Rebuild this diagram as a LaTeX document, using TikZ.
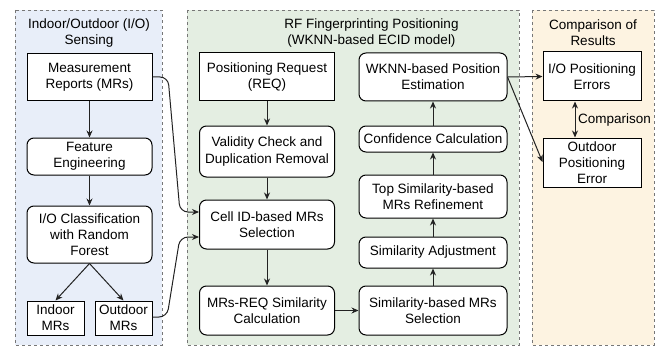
\documentclass[tikz,border=0pt]{standalone}
\usepackage{fontspec}
\setmainfont{Liberation Sans}
\usetikzlibrary{arrows.meta}
\definecolor{panelblue}{HTML}{E8EEF9}
\definecolor{panelgreen}{HTML}{E4EEE2}
\definecolor{panelyellow}{HTML}{FDF3E1}
\definecolor{dashgray}{HTML}{777777}
\definecolor{linedark}{HTML}{222222}
\newcommand{\labelfont}{\fontsize{13.5}{16.2}\selectfont}
\tikzset{
  panel/.style={draw=dashgray, line width=0.9pt, dash pattern=on 3pt off 3pt},
  basebox/.style={draw=black, line width=1pt, fill=white, align=center, inner sep=0pt, font=\labelfont},
  sqbox/.style={basebox},
  rbox/.style={basebox, rounded corners=7pt},
  title/.style={align=center, font=\labelfont, inner sep=0pt},
  flow/.style={draw=linedark, line width=1pt, -{Stealth[length=7pt,width=6pt]}},
}
\begin{document}
\begin{tikzpicture}[x=1pt, y=-1pt]
\useasboundingbox (0,0) rectangle (663,350);

% panels
\draw[panel, fill=panelblue] (15,10) rectangle (162,345);
\draw[panel, fill=panelgreen] (187,10) rectangle (519,345);
\draw[panel, fill=panelyellow] (532,10) rectangle (654,345);

% panel titles
\node[title] (t1) at (89,33) {Indoor/Outdoor (I/O)\\Sensing};
\node[title] (t2) at (371.5,33) {RF Fingerprinting Positioning\\(WKNN-based ECID model)};
\node[title] (t3) at (593,33) {Comparison of\\Results};

% sensing column
\node[sqbox, minimum width=125pt, minimum height=47pt] (mr) at (89.5,77.5) {Measurement\\Reports (MRs)};
\node[rbox, minimum width=125pt, minimum height=37pt] (fe) at (89.5,156.5) {Feature\\Engineering};
\node[rbox, minimum width=125pt, minimum height=57pt] (ioc) at (89.5,234.5) {I/O Classification\\with Random\\Forest};
\node[sqbox, minimum width=57pt, minimum height=34pt] (ind) at (55.5,318) {Indoor\\MRs};
\node[sqbox, minimum width=57pt, minimum height=34pt] (outd) at (123.5,318) {Outdoor\\MRs};

% positioning, left column
\node[sqbox, minimum width=135pt, minimum height=48pt] (pr) at (267,77) {Positioning Request\\(REQ)};
\node[rbox, minimum width=135pt, minimum height=51pt] (vc) at (267,151.5) {Validity Check and\\Duplication Removal};
\node[rbox, minimum width=135pt, minimum height=49pt] (cid) at (267,224.5) {Cell ID-based MRs\\Selection};
\node[rbox, minimum width=135pt, minimum height=49pt] (mrq) at (267,310.5) {MRs-REQ Similarity\\Calculation};

% positioning, right column
\node[rbox, minimum width=148pt, minimum height=49pt] (ss) at (433,310.5) {Similarity-based MRs\\Selection};
\node[rbox, minimum width=148pt, minimum height=31pt] (sa) at (433,252.5) {Similarity Adjustment};
\node[rbox, minimum width=148pt, minimum height=43pt] (ts) at (433,196.5) {Top Similarity-based\\MRs Refinement};
\node[rbox, minimum width=148pt, minimum height=26pt] (cc) at (433,139) {Confidence Calculation};
\node[rbox, minimum width=148pt, minimum height=48pt] (wk) at (433,77) {WKNN-based Position\\Estimation};

% comparison column
\node[sqbox, minimum width=98pt, minimum height=49pt] (iope) at (592,76.5) {I/O Positioning\\Errors};
\node[sqbox, minimum width=98pt, minimum height=49pt] (ope) at (592,162.5) {Outdoor\\Positioning\\Error};

% sensing flow
\draw[flow] (mr) -- (fe);
\draw[flow] (fe) -- (ioc);
\draw[flow] (ioc.south) -- (ind.north);
\draw[flow] (ioc.south) -- (outd.north);

% MRs fed into the cell-ID selection
\coordinate (c1a) at (168,77);
\coordinate (c1b) at (180,212);
\coordinate (c2a) at (167,317);
\coordinate (c2b) at (180,237);
\draw[flow, rounded corners=8pt] (mr.east |- 0,77) -- (c1a) -- (c1b) -- (cid.west |- 0,212);
\draw[flow, rounded corners=8pt] (outd.east |- 0,317) -- (c2a) -- (c2b) -- (cid.west |- 0,237);

% positioning flow
\draw[flow] (pr) -- (vc);
\draw[flow] (vc) -- (cid);
\draw[flow] (cid) -- (mrq);
\draw[flow] (mrq) -- (ss);
\draw[flow] (ss) -- (sa);
\draw[flow] (sa) -- (ts);
\draw[flow] (ts) -- (cc);
\draw[flow] (cc) -- (wk);

% results
\draw[flow] (wk.east) -- (iope.west);
\draw[flow] (wk.east) -- (ope.west |- 0,162);
\draw[flow, {Stealth[length=7pt,width=6pt]}-{Stealth[length=7pt,width=6pt]}] (iope.south -| 575,0) -- (ope.north -| 575,0);
\node[title, anchor=west] (cmp) at (578,120) {Comparison};
\end{tikzpicture}
\end{document}
